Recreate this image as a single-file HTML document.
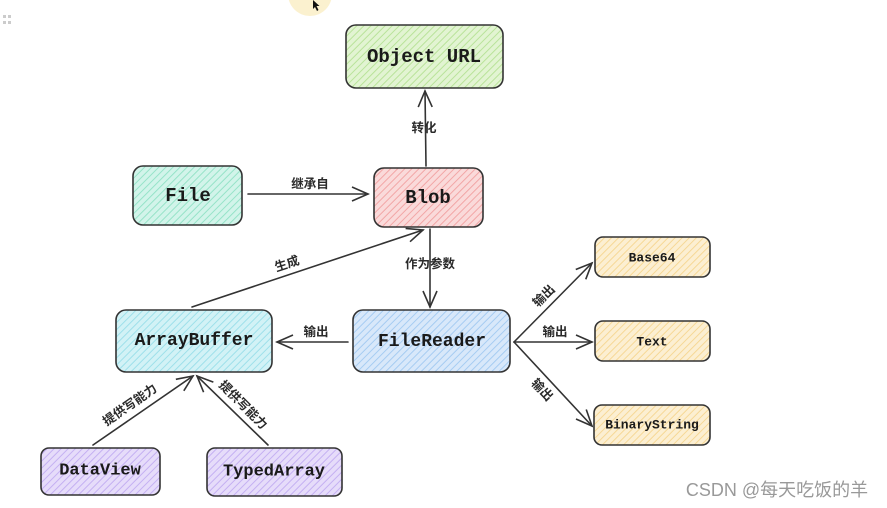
<!DOCTYPE html>
<html><head><meta charset="utf-8"><style>
html,body{margin:0;padding:0;background:#fff;}
svg{display:block;}
.t{font-family:"Liberation Mono","Noto Sans CJK SC",monospace;font-weight:bold;fill:#1a1a1a;text-anchor:middle;dominant-baseline:central;}
.l{font-family:"Liberation Sans","Noto Sans CJK SC",sans-serif;font-size:12.5px;font-weight:600;fill:#2a2a2a;text-anchor:middle;dominant-baseline:central;}
.ln{stroke:#333;stroke-width:1.6;fill:none;stroke-linecap:round;}
</style></head><body>
<svg width="887" height="508" viewBox="0 0 887 508" xmlns="http://www.w3.org/2000/svg">
<defs>
<pattern id="pg" width="5" height="5" patternUnits="userSpaceOnUse" patternTransform="rotate(45)"><rect width="5" height="5" fill="#e2f4d2"/><line x1="0" y1="0" x2="0" y2="5" stroke="#b9e39a" stroke-width="2"/></pattern>
<pattern id="pt" width="5" height="5" patternUnits="userSpaceOnUse" patternTransform="rotate(45)"><rect width="5" height="5" fill="#d2f4ea"/><line x1="0" y1="0" x2="0" y2="5" stroke="#96e3c8" stroke-width="2"/></pattern>
<pattern id="pp" width="5" height="5" patternUnits="userSpaceOnUse" patternTransform="rotate(45)"><rect width="5" height="5" fill="#fadada"/><line x1="0" y1="0" x2="0" y2="5" stroke="#f2a6a6" stroke-width="2"/></pattern>
<pattern id="pc" width="5" height="5" patternUnits="userSpaceOnUse" patternTransform="rotate(45)"><rect width="5" height="5" fill="#d2f2f6"/><line x1="0" y1="0" x2="0" y2="5" stroke="#9ee0ea" stroke-width="2"/></pattern>
<pattern id="pb" width="5" height="5" patternUnits="userSpaceOnUse" patternTransform="rotate(45)"><rect width="5" height="5" fill="#d8e8fa"/><line x1="0" y1="0" x2="0" y2="5" stroke="#a6ccf2" stroke-width="2"/></pattern>
<pattern id="py" width="5" height="5" patternUnits="userSpaceOnUse" patternTransform="rotate(45)"><rect width="5" height="5" fill="#fcefd2"/><line x1="0" y1="0" x2="0" y2="5" stroke="#f6d896" stroke-width="2"/></pattern>
<pattern id="pv" width="5" height="5" patternUnits="userSpaceOnUse" patternTransform="rotate(45)"><rect width="5" height="5" fill="#e6dcfa"/><line x1="0" y1="0" x2="0" y2="5" stroke="#c4b0f2" stroke-width="2"/></pattern>
<marker id="a" viewBox="0 0 20 20" refX="18" refY="10" markerWidth="20" markerHeight="20" markerUnits="userSpaceOnUse" orient="auto"><path d="M2 3 L18 10 L2 17" fill="none" stroke="#333" stroke-width="1.6"/></marker>
</defs>
<circle cx="310" cy="-6" r="22" fill="#fbf1cf"/>
<path d="M313 0 l0 9 l2 -2 l2 4 l1.5 -1 l-2 -4 l3 0 z" fill="#111"/>
<g fill="#ccc"><rect x="3" y="15" width="3" height="3"/><rect x="8" y="15" width="3" height="3"/><rect x="3" y="21" width="3" height="3"/><rect x="8" y="21" width="3" height="3"/></g>

<line class="ln" x1="426" y1="166" x2="425" y2="91" marker-end="url(#a)"/>
<text class="l" x="424" y="128">转化</text>
<line class="ln" x1="248" y1="194" x2="368" y2="194" marker-end="url(#a)"/>
<text class="l" x="310" y="184">继承自</text>
<line class="ln" x1="192" y1="307" x2="423" y2="230" marker-end="url(#a)"/>
<text class="l" x="287" y="264" transform="rotate(-18 287 264)">生成</text>
<line class="ln" x1="430" y1="229" x2="430" y2="307" marker-end="url(#a)"/>
<text class="l" x="430" y="264">作为参数</text>
<line class="ln" x1="348" y1="342" x2="277" y2="342" marker-end="url(#a)"/>
<text class="l" x="316" y="332">输出</text>
<line class="ln" x1="514" y1="342" x2="592" y2="263" marker-end="url(#a)"/>
<text class="l" x="544" y="296" transform="rotate(-45 544 296)">输出</text>
<line class="ln" x1="514" y1="342" x2="592" y2="342" marker-end="url(#a)"/>
<text class="l" x="555" y="332">输出</text>
<line class="ln" x1="514" y1="342" x2="592" y2="426" marker-end="url(#a)"/>
<text class="l" x="542" y="390" transform="rotate(47 542 390)">输出</text>
<line class="ln" x1="93" y1="445" x2="193" y2="376" marker-end="url(#a)"/>
<text class="l" x="130" y="405" transform="rotate(-35 130 405)">提供写能力</text>
<line class="ln" x1="268" y1="445" x2="197" y2="376" marker-end="url(#a)"/>
<text class="l" x="243" y="405" transform="rotate(45 243 405)">提供写能力</text>

<g stroke="#333" stroke-width="1.6">
<rect x="346" y="25" width="157" height="63" rx="10" fill="url(#pg)"/>
<rect x="133" y="166" width="109" height="59" rx="10" fill="url(#pt)"/>
<rect x="374" y="168" width="109" height="59" rx="10" fill="url(#pp)"/>
<rect x="116" y="310" width="156" height="62" rx="10" fill="url(#pc)"/>
<rect x="353" y="310" width="157" height="62" rx="10" fill="url(#pb)"/>
<rect x="595" y="237" width="115" height="40" rx="8" fill="url(#py)"/>
<rect x="595" y="321" width="115" height="40" rx="8" fill="url(#py)"/>
<rect x="594" y="405" width="116" height="40" rx="8" fill="url(#py)"/>
<rect x="41" y="448" width="119" height="47" rx="8" fill="url(#pv)"/>
<rect x="207" y="448" width="135" height="48" rx="8" fill="url(#pv)"/>
</g>
<text class="t" x="424" y="57" font-size="19">Object URL</text>
<text class="t" x="188" y="196" font-size="19">File</text>
<text class="t" x="428" y="198" font-size="19">Blob</text>
<text class="t" x="194" y="341" font-size="18">ArrayBuffer</text>
<text class="t" x="432" y="342" font-size="18">FileReader</text>
<text class="t" x="652" y="258" font-size="13">Base64</text>
<text class="t" x="652" y="342" font-size="13">Text</text>
<text class="t" x="652" y="425" font-size="13">BinaryString</text>
<text class="t" x="100" y="471" font-size="17">DataView</text>
<text class="t" x="274" y="472" font-size="17">TypedArray</text>
<text x="777" y="490" font-family="Liberation Sans,'Noto Sans CJK SC',sans-serif" font-size="18" fill="#999" text-anchor="middle" dominant-baseline="central">CSDN @每天吃饭的羊</text>
</svg>
</body></html>
